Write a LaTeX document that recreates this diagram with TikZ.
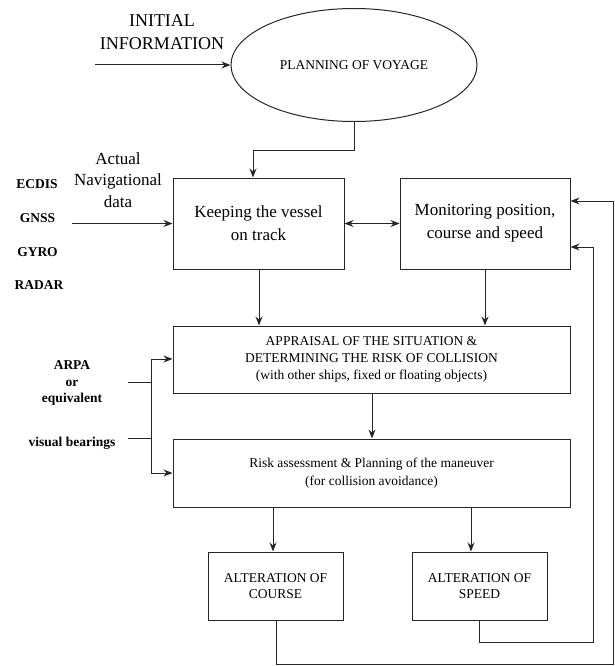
\documentclass[tikz,border=0pt]{standalone}
\usepackage{fontspec}
\setmainfont{Liberation Serif}
\newfontfamily\tnr{Liberation Serif}
\usetikzlibrary{arrows.meta,shapes.geometric}
\begin{document}
\begin{tikzpicture}[x=1pt,y=-1pt,line width=1pt,draw=black!85,
  font=\tnr,
  box/.style={draw,rectangle,inner sep=0pt,align=center},
  big/.style={font=\tnr\fontsize{17}{23}\selectfont},
  small/.style={font=\tnr\fontsize{13.5}{17}\selectfont},
  side/.style={font=\tnr\bfseries\fontsize{13.5}{16.5}\selectfont,align=center,inner sep=0pt},
  lbl/.style={align=center,inner sep=0pt},
  arr/.style={-{Stealth[length=9pt,width=7pt]}},
  darr/.style={{Stealth[length=9pt,width=7pt]}-{Stealth[length=9pt,width=7pt]}}]
\useasboundingbox (0,0) rectangle (615,666);

% nodes
\node[draw,ellipse,minimum width=246pt,minimum height=113pt,inner sep=0pt,
  font=\tnr\fontsize{13.5}{15}\selectfont] (plan) at (354,65) {PLANNING OF VOYAGE};
\node[lbl,font=\tnr\fontsize{18}{23}\selectfont] (init) at (162,32) {INITIAL\\INFORMATION};

\node[box,big,minimum width=171pt,minimum height=91pt] (keep) at (258.5,223.5) {Keeping the vessel\\on track};
\node[box,big,minimum width=170pt,minimum height=91pt] (mon) at (485,223.5) {Monitoring position,\\course and speed};

\node[lbl,font=\tnr\fontsize{17}{21.5}\selectfont] (actual) at (118,180) {Actual\\Navigational\\data};
\node[side] (ecdis) at (37,184) {ECDIS};
\node[side] (gnss) at (37.5,218) {GNSS};
\node[side] (gyro) at (37.5,252) {GYRO};
\node[side] (radar) at (39,285) {RADAR};

\node[box,small,minimum width=397pt,minimum height=67pt] (appr) at (371.5,359.5)
  {APPRAISAL OF THE SITUATION \&\\DETERMINING THE RISK OF COLLISION\\(with other ships, fixed or floating objects)};
\node[box,small,minimum width=397pt,minimum height=68pt] (risk) at (371.5,473)
  {Risk assessment \& Planning of the maneuver\\[1pt](for collision avoidance)};

\node[side] (arpa) at (72,383) {ARPA\\or\\equivalent};
\node[side] (visual) at (72,443) {visual bearings};

\node[box,font=\tnr\fontsize{13.5}{16}\selectfont,minimum width=135pt,minimum height=68pt] (course) at (275.5,586) {ALTERATION OF\\COURSE};
\node[box,font=\tnr\fontsize{13.5}{16}\selectfont,minimum width=135pt,minimum height=68pt] (speed) at (479.5,586) {ALTERATION OF\\SPEED};

% coordinates
\coordinate (initstart) at (95,65);
\coordinate (kb) at (253,150);
\coordinate (navstart) at (72,223.5);
\coordinate (ainA) at (128,382);
\coordinate (ainB) at (128,438);
\coordinate (brx) at (151,0);
\coordinate (cdown) at (276,664);
\coordinate (sdown) at (479,642);
\coordinate (cright) at (613,201);
\coordinate (sright) at (593,247);
\coordinate (cout) at (276,0);
\coordinate (sout) at (479,0);
\coordinate (carr) at (273,0);
\coordinate (sarr) at (471,0);

% connectors
\draw[arr] (initstart) -- (plan.west);
\draw[arr] (plan.south) |- (kb) -- (kb |- keep.north);
\draw[arr] (navstart) -- (keep.west);
\draw[darr] (keep.east) -- (mon.west);
\draw[arr] (keep.south -| 259,0) -- (appr.north -| 259,0);
\draw[arr] (mon.south) -- (appr.north -| mon.south);
\draw[arr] (appr.south -| 372,0) -- (risk.north -| 372,0);

\draw (ainA) -- (ainA -| brx);
\draw (ainB) -- (ainB -| brx);
\draw (brx |- 0,359) -- (brx |- 0,473);
\draw[arr] (brx |- 0,359) -- (appr.west |- 0,359);
\draw[arr] (brx |- 0,473) -- (risk.west |- 0,473);

\draw[arr] (risk.south -| carr) -- (course.north -| carr);
\draw[arr] (risk.south -| sarr) -- (speed.north -| sarr);

\draw[arr] (course.south -| cout) -- (cdown) -| (cright) -- (mon.east |- cright);
\draw[arr] (speed.south -| sout) -- (sdown) -| (sright) -- (mon.east |- sright);
\end{tikzpicture}
\end{document}
